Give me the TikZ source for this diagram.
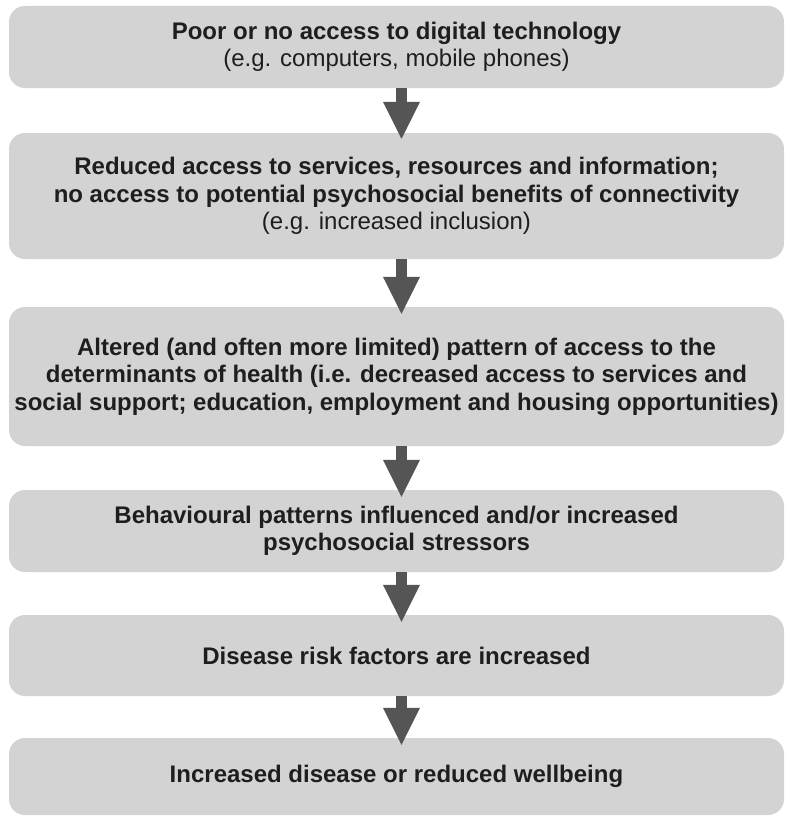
\documentclass[tikz,border=0pt]{standalone}
\usepackage{fontspec}
\setmainfont{Liberation Sans}
\usetikzlibrary{arrows.meta}
\definecolor{boxgrey}{HTML}{D3D3D3}
\definecolor{arrowgrey}{HTML}{555555}
\definecolor{txt}{HTML}{1E1E1E}
\begin{document}
\begin{tikzpicture}[x=1pt,y=-1pt,
  stage/.style={draw=none, fill=boxgrey, rounded corners=16pt, minimum width=775pt,
    inner sep=0pt, align=center, text=txt,
    font=\fontsize{24}{27.5}\selectfont\bfseries},
  flow/.style={draw=arrowgrey, line width=11pt, -{Triangle[width=34pt,length=38pt]}}]
\useasboundingbox (0,0) rectangle (784,816);
\node[stage, minimum height=82pt] (b1) at (396.5,47)
  {Poor or no access to digital technology\\ \mdseries (e.g. computers, mobile phones)};
\node[stage, minimum height=126pt] (b2) at (396.5,196)
  {Reduced access to services, resources and information;\\
   no access to potential psychosocial benefits of connectivity\\
   \mdseries (e.g. increased inclusion)};
\node[stage, minimum height=139pt] (b3) at (396.5,376.5)
  {Altered (and often more limited) pattern of access to the\\
   determinants of health (i.e. decreased access to services and\\
   social support; education, employment and housing opportunities)};
\node[stage, minimum height=82pt] (b4) at (396.5,531)
  {Behavioural patterns influenced and/or increased\\ psychosocial stressors};
\node[stage, minimum height=81pt] (b5) at (396.5,655.5)
  {Disease risk factors are increased};
\node[stage, minimum height=77pt] (b6) at (396.5,776.5)
  {Increased disease or reduced wellbeing};
\draw[flow] ([xshift=5pt]b1.south) -- ([xshift=5pt,yshift=-7pt]b2.north);
\draw[flow] ([xshift=5pt]b2.south) -- ([xshift=5pt,yshift=-8pt]b3.north);
\draw[flow] ([xshift=5pt]b3.south) -- ([xshift=5pt,yshift=-8pt]b4.north);
\draw[flow] ([xshift=5pt]b4.south) -- ([xshift=5pt,yshift=-8pt]b5.north);
\draw[flow] ([xshift=5pt]b5.south) -- ([xshift=5pt,yshift=-8pt]b6.north);
\end{tikzpicture}
\end{document}
